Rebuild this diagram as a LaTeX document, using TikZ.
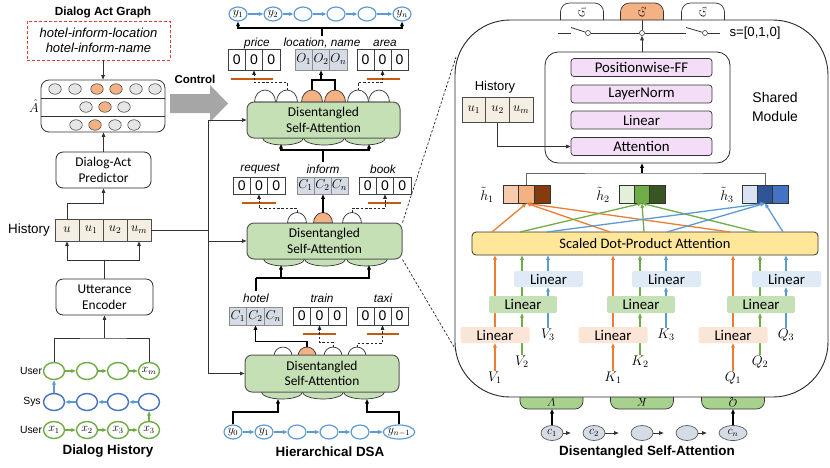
\RequirePackage{fix-cm}
\documentclass[tikz,border=0pt]{standalone}
\usepackage{fontspec}
\setsansfont{Liberation Sans}
\newfontfamily\carl{Carlito}
\usetikzlibrary{arrows.meta,calc,shapes.geometric}
\pgfdeclarelayer{bg}
\pgfsetlayers{bg,main}
\definecolor{dsag}{HTML}{C5E0B4}
\definecolor{borderg}{HTML}{595959}
\definecolor{bumpo}{HTML}{F4B183}
\definecolor{gblue}{HTML}{D6DCE5}
\definecolor{orbar}{HTML}{C55A11}
\definecolor{beige}{HTML}{F4EEE3}
\definecolor{pinkb}{HTML}{F3DDF7}
\definecolor{attny}{HTML}{FFE699}
\definecolor{linp}{HTML}{FBE5D6}
\definecolor{ling}{HTML}{C5E0B4}
\definecolor{linb}{HTML}{DEEBF7}
\definecolor{tabg}{HTML}{A9D18E}
\definecolor{cgreen}{HTML}{70AD47}
\definecolor{cblue}{HTML}{4472C4}
\definecolor{lblue}{HTML}{5B9BD5}
\definecolor{corange}{HTML}{ED7D31}
\definecolor{ctrlg}{HTML}{A6A6A6}
\definecolor{cgray}{HTML}{E7E6E6}
\definecolor{dred}{HTML}{E03C3C}
\definecolor{ho1}{HTML}{F8CBAD}
\definecolor{ho2}{HTML}{F4B183}
\definecolor{ho3}{HTML}{843C0C}
\definecolor{hg1}{HTML}{E2F0D9}
\definecolor{hg2}{HTML}{70AD47}
\definecolor{hg3}{HTML}{375623}
\definecolor{hb1}{HTML}{DAE3F3}
\definecolor{hb2}{HTML}{2F5597}
\definecolor{hb3}{HTML}{4472C4}
\newcommand\fsz[2]{\fontsize{#1}{#2}\selectfont}
\tikzset{
  arr/.style={-{Triangle[length=4.5pt,width=3.6pt]}},
  ln/.style={draw=black!80, line width=0.8pt},
  thk/.style={line width=1.6pt, draw=black},
  lab/.style={font=\sffamily\fsz{11.7}{14}, inner sep=1pt},
  ilab/.style={font=\sffamily\itshape\fsz{11.8}{14}, inner sep=2pt},
  mlab/.style={font=\fsz{14}{14}, inner sep=1pt},
  captxt/.style={font=\sffamily\bfseries\fsz{13.4}{16}, inner sep=0pt},
  rbox/.style={draw=black!85, line width=0.8pt, rounded corners=7pt, align=center, font=\carl\fsz{13.4}{15.5}, inner sep=0pt},
  dsa/.style={rbox, fill=dsag, draw=borderg, line width=1pt},
  cell/.style={draw=black!75, line width=0.7pt, inner sep=0pt, font=\sffamily\fsz{14}{14}},
  gcell/.style={cell, fill=gblue, draw=black!45, font=\fsz{13}{13}},
  hcell/.style={cell, fill=beige, draw=black!70, font=\fsz{13}{13}},
  hc/.style={draw=black!80, line width=0.6pt, minimum width=15.5pt, minimum height=18pt, inner sep=0pt},
  cir/.style={ellipse, draw=black!70, line width=0.6pt, minimum width=12.5pt, minimum height=10.5pt, inner sep=0pt},
  gn/.style={ellipse, draw=cgreen, line width=1.4pt, minimum width=21pt, minimum height=17pt, inner sep=0pt, font=\fsz{12}{12}},
  bn/.style={gn, draw=cblue},
  yn/.style={ellipse, draw=lblue, line width=1.2pt, minimum width=18pt, minimum height=14pt, inner sep=0pt, font=\fsz{12}{12}},
  cn/.style={ellipse, fill=gblue, draw=black!65, line width=0.7pt, minimum width=22pt, minimum height=15pt, inner sep=0pt, font=\fsz{12}{12}},
  bumpst/.style={draw=black!80, line width=0.7pt},
  orb/.style={fill=orbar, minimum height=2pt, inner sep=0pt},
  dsh/.style={draw=black!85, line width=0.7pt, dash pattern=on 2.5pt off 1.8pt},
  garr/.style={draw=cgreen, line width=1.1pt, arr},
  barr/.style={draw=lblue, line width=1.1pt, arr},
  oline/.style={draw=corange, line width=1.3pt, arr},
  gline/.style={draw=cgreen, line width=1.3pt, arr},
  bline/.style={draw=lblue, line width=1.3pt, arr},
  pbox/.style={draw=black!80, fill=pinkb, line width=0.7pt, rounded corners=3pt, minimum width=141pt, minimum height=18pt, inner sep=0pt, font=\carl\fsz{14.8}{15}},
  linbox/.style={rounded corners=2pt, minimum width=69pt, minimum height=16pt, inner sep=0pt, font=\carl\fsz{14.8}{15}},
}
% three cells in a row
\newcommand\tricell[9]{%
  \node[#6,minimum width=#4pt,minimum height=#5pt] (#1a) at ({#2-#4},#3) {#7};
  \node[#6,minimum width=#4pt,minimum height=#5pt] (#1b) at (#2,#3) {#8};
  \node[#6,minimum width=#4pt,minimum height=#5pt] (#1c) at ({#2+#4},#3) {#9};
}
% bump on top of a DSA block
\newcommand\bump[6]{%
  \draw[bumpst,fill=#6] ({#2-#4},#3) arc[start angle=180,end angle=0,x radius=#4pt,y radius=#5pt] -- cycle;
  \coordinate (#1) at (#2,{#3-#5});
}
% one V/K/Q group of linear layers
\newcommand\grp[3]{%
  \node[linbox, fill=linp] (P#1) at (#2,335) {Linear};
  \node[linbox, fill=ling, minimum width=68pt, minimum height=17pt] (Gr#1) at ({#2+28},304.5) {Linear};
  \node[linbox, fill=linb] (B#1) at ({#2+53.5},279) {Linear};
  \node[mlab] (La#1) at (#2,378) {$#3_1$};
  \node[mlab] (Lb#1) at ({#2+27},362) {$#3_2$};
  \node[mlab] (Lc#1) at ({#2+53},335) {$#3_3$};
  \begin{pgfonlayer}{bg}
    \draw[oline] (La#1.north) -- (P#1.south);
    \draw[oline] (P#1.north) -- (P#1.north |- sdpa.south);
    \draw[gline] (Lb#1.north) -- (Lb#1.north |- Gr#1.south);
    \draw[gline] (Lb#1.north |- Gr#1.north) -- (Lb#1.north |- sdpa.south);
    \draw[bline] (Lc#1.north) -- (Lc#1.north |- B#1.south);
    \draw[bline] (Lc#1.north |- B#1.north) -- (Lc#1.north |- sdpa.south);
  \end{pgfonlayer}
}
\begin{document}
\begin{tikzpicture}[x=1pt,y=-1pt]
\useasboundingbox (0,0) rectangle (830,467);

%================ LEFT COLUMN =================
\node[font=\sffamily\bfseries\fsz{11.8}{14}] (tdag) at (103,12) {Dialog Act Graph};
\node[draw=dred, line width=0.8pt, dash pattern=on 3pt off 2pt, minimum width=143pt, minimum height=39pt, align=center, font=\sffamily\itshape\fsz{13}{15}, inner sep=0pt] (dag) at (98.5,40.5) {hotel-inform-location\\hotel-inform-name};

\node[draw=black!80, line width=0.8pt, rounded corners=8pt, minimum width=124pt, minimum height=52pt, inner sep=0pt] (ahat) at (103,106) {};
\draw[ln] (ahat.west |- 0,98) -- (ahat.east |- 0,98);
\draw[ln] (ahat.west |- 0,116) -- (ahat.east |- 0,116);
\foreach \x/\c [count=\i] in {55/cgray,75/cgray,97/bumpo,116/bumpo,136/cgray,155/cgray}
  \node[cir, fill=\c] (ra\i) at (\x,89) {};
\foreach \x/\c [count=\i] in {86/cgray,105/bumpo,124/cgray}
  \node[cir, fill=\c] (rb\i) at (\x,107) {};
\foreach \x/\c [count=\i] in {76/cgray,95/bumpo,115/cgray,134/cgray}
  \node[cir, fill=\c] (rc\i) at (\x,125) {};
\node[font=\fsz{13}{13}] (ahl) at (34,106) {$\hat{A}$};
\draw[ln,arr] (dag.south -| ahat.north) -- (ahat.north);

\node[rbox, minimum width=95pt, minimum height=36pt] (dap) at (103.5,170) {Dialog-Act\\Predictor};
\draw[ln,arr] (dap.north) -- (dap.north |- ahat.south);

\node[hcell, minimum width=24pt, minimum height=22pt] (hu) at (67,230) {$u$};
\node[hcell, minimum width=24pt, minimum height=22pt] (hu1) at (91,230) {$u_1$};
\node[hcell, minimum width=24pt, minimum height=22pt] (hu2) at (115,230) {$u_2$};
\node[hcell, minimum width=24pt, minimum height=22pt] (hum) at (139,230) {$u_m$};
\node[lab, font=\sffamily\fsz{13.4}{14}] (histl) at (29,230) {History};
\coordinate (k1) at (103.5,203);
\draw[ln,arr] (hu.north) |- (k1) -- (dap.south);

\node[rbox, minimum width=97pt, minimum height=36pt] (ue) at (104.5,297) {Utterance\\Encoder};
\coordinate (k2) at (104.5,260);
\draw[ln] (ue.north) -- (k2);
\draw[ln,arr] (k2) -| (hu.south);
\draw[ln,arr] (k2) -| (hum.south);

\node[gn] (ut1) at (54,371) {};
\node[gn] (ut2) at (87,371) {};
\node[gn] (ut3) at (118,371) {};
\node[gn] (ut4) at (149,371) {$x_m$};
\node[bn] (s1) at (54,402) {};
\node[bn] (s2) at (87,402) {};
\node[bn] (s3) at (118,402) {};
\node[bn] (s4) at (149,402) {};
\node[gn] (ub1) at (54,430) {$x_1$};
\node[gn] (ub2) at (87,430) {$x_2$};
\node[gn] (ub3) at (118,430) {$x_3$};
\node[gn] (ub4) at (149,430) {$x_3$};
\draw[garr] (ut1) -- (ut2);
\draw[garr] (ut2) -- (ut3);
\draw[garr] (ut3) -- (ut4);
\draw[barr] (s4) -- (s3);
\draw[barr] (s3) -- (s2);
\draw[barr] (s2) -- (s1);
\draw[barr] (s1) -- (ut1);
\draw[garr] (ub1) -- (ub2);
\draw[garr] (ub2) -- (ub3);
\draw[garr] (ub3) -- (ub4);
\draw[garr] (ub4) -- (s4);
\node[lab, font=\sffamily\fsz{10.4}{12}] (lus1) at (31,371) {User};
\node[lab, font=\sffamily\fsz{10.4}{12}] (lsys) at (32,402) {Sys};
\node[lab, font=\sffamily\fsz{10.4}{12}] (lus2) at (31,430) {User};
\coordinate (k3) at (104.5,338);
\draw[ln] (ut1.north) |- (k3) -| (ut4.north);
\draw[ln,arr] (k3) -- (ue.south);
\node[captxt] (capdh) at (108,451) {Dialog History};

%================ CONTROL ARROW =================
\fill[ctrlg] (170,94) -- (210,94) -- (210,85) -- (228,103.5) -- (210,122) -- (210,113) -- (170,113) -- cycle;
\node[font=\sffamily\bfseries\fsz{11.5}{13}] (ctl) at (195,79) {Control};

%================ MIDDLE COLUMN =================
% top chain
\node[yn] (yt1) at (238,14) {$y_1$};
\node[yn] (yt2) at (273,14) {$y_2$};
\node[yn] (yt3) at (303,14) {};
\node[yn] (yt4) at (336,14) {};
\node[yn] (yt5) at (367,14) {};
\node[yn] (yt6) at (402,14) {$y_n$};
\foreach \a/\b in {yt1/yt2,yt2/yt3,yt3/yt4,yt4/yt5,yt5/yt6} \draw[barr] (\a) -- (\b);

\tricell{p}{254}{59.5}{17.3}{21}{cell}{0}{0}{0}
\tricell{o}{321}{59.5}{17.3}{21}{gcell}{$O_1$}{$O_2$}{$O_n$}
\tricell{ar}{382.5}{59.5}{17}{21}{cell}{0}{0}{0}
\node[ilab] (lpr) at (257,43) {price};
\node[ilab] (lloc) at (322,43) {location, name};
\node[ilab] (lar) at (385,43) {area};
\coordinate (k4) at (lloc.north |- 0,28);
\draw[thk] (lloc.north) -- (k4);
\draw[thk,arr] (k4) -| (yt1.south);
\draw[thk,arr] (k4) -| (yt6.south);
\node[orb, minimum width=42pt] (pbar) at (252,79) {};
\node[orb, minimum width=33pt] (arbar) at (383.5,79) {};

% top DSA block
\bump{t1}{265}{102}{10.5}{12}{white}
\bump{t2}{287}{102}{10.5}{12}{white}
\bump{t3}{312}{102}{10.5}{12}{bumpo}
\bump{t4}{335}{102}{10.5}{12}{bumpo}
\bump{t5}{358}{102}{10.5}{12}{white}
\bump{t6}{379}{102}{10.5}{12}{white}
\foreach \x in {283,324,365} \draw[bumpst, fill=dsag] (\x,138) ellipse[x radius=20.5pt, y radius=7pt];
\node[dsa, minimum width=153pt, minimum height=36pt] (dsa1) at (323.5,120) {Disentangled\\Self-Attention};
\draw[dsh,arr] (t2) |- ($(pb.south)+(0,12)$) -- (pb.south);
\draw[dsh,arr] (t5) |- ($(arb.south)+(0,12)$) -- (arb.south);
\coordinate (k5) at (ob.south |- 0,80);
\draw[thk] (t3) |- (k5) -| (t4);
\draw[thk,arr] (k5) -- (ob.south);

% middle section
\tricell{rq}{259}{185.5}{17.3}{17}{cell}{0}{0}{0}
\tricell{inf}{322.5}{185.5}{17}{17}{gcell}{$C_1$}{$C_2$}{$C_n$}
\tricell{bk}{385}{185.5}{17.3}{17}{cell}{0}{0}{0}
\node[ilab] (lrq) at (260,169) {request};
\node[ilab] (linf) at (323,169) {inform};
\node[ilab] (lbk) at (383,169) {book};
\node[orb, minimum width=34pt] (rqbar) at (259,203) {};
\node[orb, minimum width=33pt] (bkbar) at (384.5,203) {};
\coordinate (k6) at (linf.north |- 0,150);
\coordinate (d1a) at (281,144);
\coordinate (d1b) at (369,144);
\draw[thk] (linf.north) -- (k6);
\draw[thk,arr] (k6) -| (d1a);
\draw[thk,arr] (k6) -| (d1b);

\bump{m1}{297}{223}{9.5}{10.5}{white}
\bump{m2}{323}{223}{9.5}{10.5}{bumpo}
\bump{m3}{352}{223}{9.5}{10.5}{white}
\foreach \x in {284,325,367} \draw[bumpst, fill=dsag] (\x,259) ellipse[x radius=20.5pt, y radius=7pt];
\node[dsa, minimum width=155pt, minimum height=36pt] (dsa2) at (324.5,241) {Disentangled\\Self-Attention};
\draw[dsh,arr] (m1) |- ($(rqb.south)+(0,14)$) -- (rqb.south);
\draw[dsh,arr] (m3) |- ($(bkb.south)+(0,14)$) -- (bkb.south);
\draw[thk,arr] (m2) -- (m2 |- infb.south);

% bottom section
\tricell{ht}{255.5}{316}{17.7}{18}{gcell}{$C_1$}{$C_2$}{$C_n$}
\tricell{tr}{319.5}{316}{17.7}{18}{cell}{0}{0}{0}
\tricell{tx}{382.5}{316}{17}{18}{cell}{0}{0}{0}
\node[ilab] (lhot) at (256,298) {hotel};
\node[ilab] (ltr) at (322,298) {train};
\node[ilab] (ltx) at (383,298) {taxi};
\node[orb, minimum width=33pt] (trbar) at (319.5,334) {};
\node[orb, minimum width=32pt] (txbar) at (383,334) {};
\coordinate (k7) at (lhot.north |- 0,278);
\coordinate (d2a) at (281,265);
\coordinate (d2b) at (369,265);
\draw[thk] (lhot.north) -- (k7);
\draw[thk,arr] (k7) -| (d2a);
\draw[thk,arr] (k7) -| (d2b);

\bump{b1}{283}{356}{9}{9}{white}
\bump{b2}{307}{356}{9}{9}{bumpo}
\bump{b3}{333}{356}{9}{9}{white}
\bump{b4}{357}{356}{9}{9}{white}
\foreach \x in {282,323,364} \draw[bumpst, fill=dsag] (\x,392) ellipse[x radius=20.5pt, y radius=7pt];
\node[dsa, minimum width=154pt, minimum height=37pt] (dsa3) at (322,373.5) {Disentangled\\Self-Attention};
\draw[dsh,arr] (b3) |- ($(trb.south)+(0,17)$) -- (trb.south);
\draw[dsh,arr] (b4) |- ($(txb.south)+(0,18)$) -- (txb.south);
\draw[thk,arr] (b2) |- ($(htb.south)+(0,16)$) -- (htb.south);

% bottom chain
\node[yn] (yb1) at (233,432) {$y_0$};
\node[yn] (yb2) at (264,432) {$y_1$};
\node[yn] (yb3) at (297,432) {};
\node[yn] (yb4) at (329,432) {};
\node[yn] (yb5) at (360,432) {};
\node[yn, minimum width=30pt] (yb6) at (399,432) {$y_{n-1}$};
\foreach \a/\b in {yb1/yb2,yb2/yb3,yb3/yb4,yb4/yb5,yb5/yb6} \draw[barr] (\a) -- (\b);
\coordinate (d3a) at (278,399);
\coordinate (d3b) at (367,399);
\draw[thk,arr] (yb1.north) |- ($(d3a)+(0,13)$) -- (d3a);
\draw[thk,arr] (yb6.north) |- ($(d3b)+(0,13)$) -- (d3b);
\node[captxt] (caphd) at (330,452) {Hierarchical DSA};

% feeds from history
\draw[ln] (hum.east) -- ++(57,0) coordinate (fj);
\draw[ln,arr] (fj) |- (dsa1.west);
\draw[ln,arr] (fj) |- (dsa3.west);
\draw[ln,arr] (fj |- dsa2.west) -- (dsa2.west);

% zoom lines
\coordinate (z1) at (456,57);
\coordinate (z2) at (457,352);
\draw[dsh] (dsa2.north east) -- (z1);
\draw[dsh] (dsa2.south east) -- (z2);

%================ RIGHT PANEL =================
\foreach \x/\c [count=\i] in {582/white,642/bumpo,703/white} {
  \draw[draw=black!80, line width=0.7pt, fill=\c, rounded corners=9pt] (\x-21.5,20) -- (\x-21.5,3) -- (\x+21.5,3) -- (\x+21.5,20);
  \node[rotate=90, font=\fsz{9}{9}] (G\i) at (\x,12) {$G_\i$};
}
\foreach \x/\L in {551.5/V,642/K,733/Q} {
  \draw[fill=tabg, draw=black!80, line width=0.7pt, rounded corners=8pt] (\x-31.5,397) -- (\x-31.5,409) -- (\x+31.5,409) -- (\x+31.5,397);
  \node[rotate=180, font=\fsz{11}{11}] (tab\L) at (\x,402) {$\L$};
}
\node[draw=black!85, line width=0.9pt, rounded corners=55pt, minimum width=373pt, minimum height=377pt, inner sep=0pt] (big) at (641.5,208.5) {};

% switches
\node[circle, draw=black!80, fill=white, minimum size=5pt, inner sep=0pt, line width=0.6pt] (sw1) at (588,33) {};
\node[circle, draw=black!80, fill=white, minimum size=5pt, inner sep=0pt, line width=0.6pt] (sw2) at (642,33) {};
\node[circle, draw=black!80, fill=white, minimum size=5pt, inner sep=0pt, line width=0.6pt] (sw3) at (705,33) {};
\coordinate (swa) at (558,33);
\coordinate (swb) at (571,33);
\coordinate (swc) at (571,27.5);
\coordinate (swd) at (686,33);
\coordinate (swe) at (686,27.5);
\coordinate (swf) at (720,33);
\coordinate (g2b) at (642,20);
\draw[ln] (swa) -- (swb);
\draw[ln] (swc) -- (sw1);
\draw[ln] (sw1) -- (sw2);
\draw[ln] (sw2) -- (swd);
\draw[ln] (swe) -- (sw3);
\draw[ln] (sw3) -- (swf);
\draw[ln] (g2b) -- (sw2.north);
\node[lab, font=\sffamily\fsz{13.2}{14}] (sl) at (755,33) {s=[0,1,0]};

% shared module
\node[draw=black!85, line width=0.8pt, rounded corners=13pt, minimum width=185pt, minimum height=111pt] (sm) at (637.5,107.5) {};
\draw[ln,arr] (sw2 |- sm.north) -- (sw2.south);
\node[pbox] (pff) at (641.5,67.5) {Positionwise-FF};
\node[pbox] (lnm) at (641.5,94) {LayerNorm};
\node[pbox] (lin) at (641.5,120) {Linear};
\node[pbox] (att) at (641.5,146.5) {Attention};
\node[lab, align=center, font=\sffamily\fsz{14}{19}] (smlbl) at (775,107) {Shared\\Module};
\node[lab, font=\sffamily\fsz{13}{14}] (hl2) at (495,87) {History};
\node[hcell, minimum width=23.7pt, minimum height=25pt] (hs1) at (473.8,110) {$u_1$};
\node[hcell, minimum width=23.7pt, minimum height=25pt] (hs2) at (497.5,110) {$u_2$};
\node[hcell, minimum width=23.7pt, minimum height=25pt] (hs3) at (521.2,110) {$u_m$};
\draw[ln,arr] (hs2.south) |- (att.west);

% h boxes
\node[hc, fill=ho1] (h1a) at (510.9,194) {};
\node[hc, fill=ho2] (h1b) at (526.5,194) {};
\node[hc, fill=ho3] (h1c) at (542.1,194) {};
\node[hc, fill=hg1] (h2a) at (626.6,194) {};
\node[hc, fill=hg2] (h2b) at (642,194) {};
\node[hc, fill=hg3] (h2c) at (657.4,194) {};
\node[hc, fill=hb1] (h3a) at (749.7,194) {};
\node[hc, fill=hb2] (h3b) at (765,194) {};
\node[hc, fill=hb3] (h3c) at (780.3,194) {};
\node[mlab] (th1) at (487,195) {$\tilde{h}_1$};
\node[mlab] (th2) at (603,195) {$\tilde{h}_2$};
\node[mlab] (th3) at (727,195) {$\tilde{h}_3$};
\coordinate (hk) at (642,173);
\draw[draw=black!60, line width=0.8pt] (h1b.north) |- (hk) -| (h3b.north);
\draw[line width=1.2pt, arr] (hk) -- (hk |- sm.south);

% scaled dot-product attention
\node[draw=black!80, fill=attny, line width=0.8pt, rounded corners=4pt, minimum width=346pt, minimum height=23pt, inner sep=0pt, font=\carl\fsz{14.5}{15}] (sdpa) at (645,243.5) {Scaled Dot-Product Attention};
\foreach \x [count=\i] in {492,610,730} {\coordinate (so\i) at (\x,232); \draw[oline] (so\i) -- (h1b.south);}
\foreach \x [count=\i] in {520,644,757} {\coordinate (sg\i) at (\x,232); \draw[gline] (sg\i) -- (h2b.south);}
\foreach \x [count=\i] in {547,667,783} {\coordinate (sb\i) at (\x,232); \draw[bline] (sb\i) -- (h3b.south);}

\grp{v}{495}{V}
\grp{k}{613}{K}
\grp{q}{733}{Q}

% c chain
\node[cn] (c1) at (552,433) {$c_1$};
\node[cn] (c2) at (594,433) {$c_2$};
\node[cn] (c3) at (642,433) {};
\node[cn] (c4) at (687,433) {};
\node[cn, minimum width=28pt] (c5) at (733,433) {$c_n$};
\foreach \a/\b in {c1/c2,c2/c3,c3/c4,c4/c5} \draw[ln,arr,shorten >=12pt] (\a) -- (\b);
\coordinate (tv) at (551.5,409);
\coordinate (tq) at (733,409);
\draw[line width=1.4pt,arr] (c1.north) -- (c1.north |- tv);
\draw[line width=1.4pt,arr] (c5.north) -- (c5.north |- tq);
\node[captxt] (capdsa) at (647,452) {Disentangled Self-Attention};
\end{tikzpicture}
\end{document}
